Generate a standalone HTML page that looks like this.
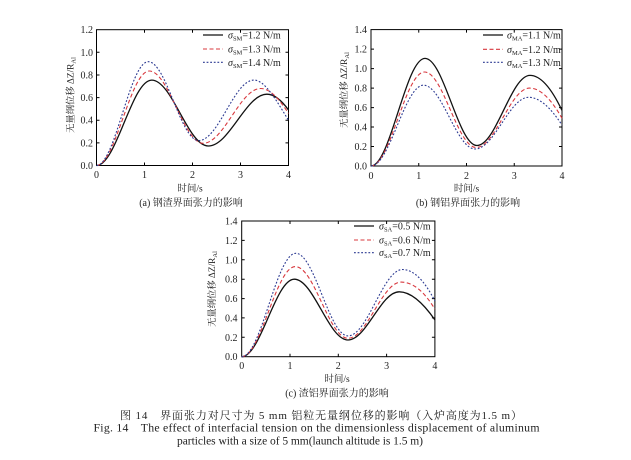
<!DOCTYPE html>
<html><head><meta charset="utf-8"><style>
html,body{margin:0;padding:0;background:#fff;}
svg{display:block;}
.t{font-family:"Liberation Serif","Noto Serif CJK SC",serif;fill:#222;}
.c{font-family:"Liberation Serif","Noto Serif CJK SC",serif;fill:#222;}
</style></head><body>
<svg width="631" height="460" viewBox="0 0 631 460" xmlns="http://www.w3.org/2000/svg">
<rect width="631" height="460" fill="#fff"/>

<!-- ========== Chart (a) ========== -->
<g fill="none" stroke="#000" stroke-width="1">
<rect x="96.5" y="29.7" width="192" height="135.8"/>
<path d="M96.5,142.9h3M96.5,120.2h3M96.5,97.6h3M96.5,75h3M96.5,52.3h3M288.5,142.9h-3M288.5,120.2h-3M288.5,97.6h-3M288.5,75h-3M288.5,52.3h-3M144.5,165.5v-3M192.5,165.5v-3M240.5,165.5v-3M144.5,29.7v3M192.5,29.7v3M240.5,29.7v3"/>
</g>
<g class="t" font-size="10" text-anchor="end">
<text x="93" y="169">0.0</text><text x="93" y="146.4">0.2</text><text x="93" y="123.7">0.4</text><text x="93" y="101.1">0.6</text><text x="93" y="78.5">0.8</text><text x="93" y="55.8">1.0</text><text x="93" y="33.2">1.2</text>
</g>
<g class="t" font-size="10" text-anchor="middle">
<text x="96.5" y="178">0</text><text x="144.5" y="178">1</text><text x="192.5" y="178">2</text><text x="240.5" y="178">3</text><text x="288.5" y="178">4</text>
</g>
<text class="t" font-size="9.5" text-anchor="middle" x="190" y="191.5">时间/s</text>
<text class="t" font-size="10" text-anchor="middle" x="191" y="206">(a) 钢渣界面张力的影响</text>
<text class="t" font-size="9.3" text-anchor="middle" transform="translate(73.5,95) rotate(-90)">无量纲位移 ΔZ/R<tspan font-size="6.5" dy="2">Al</tspan></text>
<g fill="none">
<path stroke="#111" stroke-width="1.3" d="M96.5,165.5 C116.4,165.5 131.8,80.1 151.7,80.1 C172.1,80.1 187.9,146 208.3,146 C229.4,146 245.8,94.2 266.9,94.2 C274.1,94.2 281.3,100 288.5,110"/>
<path stroke="#d8383e" stroke-width="1.1" stroke-dasharray="4 2.5" d="M96.5,165.5 C115.5,165.5 130.3,71 149.3,71 C168.7,71 183.7,143.3 203.1,143.3 C223.8,143.3 240,88.5 260.7,88.5 C270,88.5 279.2,99 288.5,113.4"/>
<path stroke="#2c3a92" stroke-width="1.1" stroke-dasharray="1.8 1.8" d="M96.5,165.5 C115.1,165.5 129.7,61.7 148.3,61.7 C166.4,61.7 180.6,140.6 198.7,140.6 C218.6,140.6 234,80.1 253.9,80.1 C265.4,80.1 277,101.8 288.5,120.2"/>
<path stroke="#111" stroke-width="1.3" d="M203,35h20"/>
<path stroke="#d8383e" stroke-width="1.1" stroke-dasharray="4 2.5" d="M203,49h20"/>
<path stroke="#2c3a92" stroke-width="1.1" stroke-dasharray="1.8 1.8" d="M203,62.3h20"/>
</g>
<g class="t" font-size="10">
<text x="228" y="38.5"><tspan font-style="italic">σ</tspan><tspan font-size="6.5" dy="2">SM</tspan><tspan dy="-2">=1.2 N/m</tspan></text>
<text x="228" y="52.5"><tspan font-style="italic">σ</tspan><tspan font-size="6.5" dy="2">SM</tspan><tspan dy="-2">=1.3 N/m</tspan></text>
<text x="228" y="65.8"><tspan font-style="italic">σ</tspan><tspan font-size="6.5" dy="2">SM</tspan><tspan dy="-2">=1.4 N/m</tspan></text>
</g>

<!-- ========== Chart (b) ========== -->
<g fill="none" stroke="#000" stroke-width="1">
<rect x="371" y="29.6" width="191" height="136.4"/>
<path d="M371,146.5h3M371,127h3M371,107.6h3M371,88.1h3M371,68.6h3M371,49.1h3M562,146.5h-3M562,127h-3M562,107.6h-3M562,88.1h-3M562,68.6h-3M562,49.1h-3M418.75,166v-3M466.5,166v-3M514.25,166v-3M418.75,29.6v3M466.5,29.6v3M514.25,29.6v3"/>
</g>
<g class="t" font-size="10" text-anchor="end">
<text x="367" y="169.5">0.0</text><text x="367" y="150">0.2</text><text x="367" y="130.5">0.4</text><text x="367" y="111.1">0.6</text><text x="367" y="91.6">0.8</text><text x="367" y="72.1">1.0</text><text x="367" y="52.6">1.2</text><text x="367" y="33.1">1.4</text>
</g>
<g class="t" font-size="10" text-anchor="middle">
<text x="371" y="179">0</text><text x="418.75" y="179">1</text><text x="466.5" y="179">2</text><text x="514.25" y="179">3</text><text x="562" y="179">4</text>
</g>
<text class="t" font-size="9.5" text-anchor="middle" x="466.5" y="191.5">时间/s</text>
<text class="t" font-size="10" text-anchor="middle" x="468" y="206">(b) 钢铝界面张力的影响</text>
<text class="t" font-size="9.3" text-anchor="middle" transform="translate(347,90) rotate(-90)">无量纲位移 ΔZ/R<tspan font-size="6.5" dy="2">Al</tspan></text>
<g fill="none">
<path stroke="#111" stroke-width="1.3" d="M371,166 C390.4,166 405.6,58.4 425,58.4 C443.7,58.4 458.3,145.5 477,145.5 C496.1,145.5 510.9,75.4 530,75.4 C540.7,75.4 551.3,88 562,110.5"/>
<path stroke="#d8383e" stroke-width="1.1" stroke-dasharray="4 2.5" d="M371,166 C390.3,166 405.2,72 424.5,72 C443.1,72 457.5,147.5 476.1,147.5 C495.3,147.5 510.3,88.1 529.5,88.1 C540.3,88.1 551.2,99.1 562,118.3"/>
<path stroke="#2c3a92" stroke-width="1.1" stroke-dasharray="1.8 1.8" d="M371,166 C389.9,166 404.6,85.2 423.5,85.2 C442.1,85.2 456.5,149 475.1,149 C494.4,149 509.3,97.3 528.6,97.3 C539.7,97.3 550.9,107.9 562,125.1"/>
<path stroke="#111" stroke-width="1.3" d="M483,35h20"/>
<path stroke="#d8383e" stroke-width="1.1" stroke-dasharray="4 2.5" d="M483,49.3h20"/>
<path stroke="#2c3a92" stroke-width="1.1" stroke-dasharray="1.8 1.8" d="M483,62.3h20"/>
</g>
<g class="t" font-size="10">
<text x="507" y="38.5"><tspan font-style="italic">σ</tspan><tspan font-size="6.5" dy="2">MA</tspan><tspan dy="-2">=1.1 N/m</tspan></text>
<text x="507" y="52.8"><tspan font-style="italic">σ</tspan><tspan font-size="6.5" dy="2">MA</tspan><tspan dy="-2">=1.2 N/m</tspan></text>
<text x="507" y="65.8"><tspan font-style="italic">σ</tspan><tspan font-size="6.5" dy="2">MA</tspan><tspan dy="-2">=1.3 N/m</tspan></text>
</g>

<!-- ========== Chart (c) ========== -->
<g fill="none" stroke="#000" stroke-width="1">
<rect x="241.7" y="221" width="193.2" height="135.7"/>
<path d="M241.7,337.3h3M241.7,317.9h3M241.7,298.6h3M241.7,279.2h3M241.7,259.8h3M241.7,240.4h3M434.9,337.3h-3M434.9,317.9h-3M434.9,298.6h-3M434.9,279.2h-3M434.9,259.8h-3M434.9,240.4h-3M290,356.7v-3M338.3,356.7v-3M386.6,356.7v-3M290,221v3M338.3,221v3M386.6,221v3"/>
</g>
<g class="t" font-size="10" text-anchor="end">
<text x="237.5" y="360.2">0.0</text><text x="237.5" y="340.8">0.2</text><text x="237.5" y="321.4">0.4</text><text x="237.5" y="302.1">0.6</text><text x="237.5" y="282.7">0.8</text><text x="237.5" y="263.3">1.0</text><text x="237.5" y="243.9">1.2</text><text x="237.5" y="224.5">1.4</text>
</g>
<g class="t" font-size="10" text-anchor="middle">
<text x="241.7" y="369">0</text><text x="290" y="369">1</text><text x="338.3" y="369">2</text><text x="386.6" y="369">3</text><text x="434.9" y="369">4</text>
</g>
<text class="t" font-size="9.5" text-anchor="middle" x="337" y="382">时间/s</text>
<text class="t" font-size="10" text-anchor="middle" x="337" y="396.5">(c) 渣铝界面张力的影响</text>
<text class="t" font-size="9.3" text-anchor="middle" transform="translate(215,289) rotate(-90)">无量纲位移 ΔZ/R<tspan font-size="6.5" dy="2">Al</tspan></text>
<g fill="none">
<path stroke="#111" stroke-width="1.3" d="M241.7,356.7 C260.6,356.7 275.4,279.2 294.3,279.2 C313.6,279.2 328.7,340 348,340 C366.4,340 380.8,291.8 399.2,291.8 C411.1,291.8 423,302.8 434.9,319.9"/>
<path stroke="#d8383e" stroke-width="1.1" stroke-dasharray="4 2.5" d="M241.7,356.7 C261,356.7 276,266.6 295.3,266.6 C314.3,266.6 329,338.3 348,338.3 C367.1,338.3 382,282.1 401.1,282.1 C412.4,282.1 423.6,290.4 434.9,309.2"/>
<path stroke="#2c3a92" stroke-width="1.1" stroke-dasharray="1.8 1.8" d="M241.7,356.7 C261.2,356.7 276.3,253.3 295.8,253.3 C314.6,253.3 329.2,335.9 348,335.9 C367.6,335.9 382.9,269.5 402.5,269.5 C413.3,269.5 424.1,279.9 434.9,301"/>
<path stroke="#111" stroke-width="1.3" d="M354,226h20"/>
<path stroke="#d8383e" stroke-width="1.1" stroke-dasharray="4 2.5" d="M354,240h20"/>
<path stroke="#2c3a92" stroke-width="1.1" stroke-dasharray="1.8 1.8" d="M354,252.7h20"/>
</g>
<g class="t" font-size="10">
<text x="379" y="229.5"><tspan font-style="italic">σ</tspan><tspan font-size="6.5" dy="2">SA</tspan><tspan dy="-2">=0.5 N/m</tspan></text>
<text x="379" y="243.5"><tspan font-style="italic">σ</tspan><tspan font-size="6.5" dy="2">SA</tspan><tspan dy="-2">=0.6 N/m</tspan></text>
<text x="379" y="256.2"><tspan font-style="italic">σ</tspan><tspan font-size="6.5" dy="2">SA</tspan><tspan dy="-2">=0.7 N/m</tspan></text>
</g>

<!-- ========== Caption ========== -->
<text class="c" font-size="11" x="120" y="419" textLength="402" lengthAdjust="spacing">图 14　界面张力对尺寸为 5 mm 铝粒无量纲位移的影响（入炉高度为1.5 m）</text>
<text class="c" font-size="11.8" x="93.5" y="431.5" textLength="446" lengthAdjust="spacing">Fig. 14　The effect of interfacial tension on the dimensionless displacement of aluminum</text>
<text class="c" font-size="11.5" x="177" y="444.5" textLength="246" lengthAdjust="spacing">particles with a size of 5 mm(launch altitude is 1.5 m)</text>
</svg>
</body></html>
